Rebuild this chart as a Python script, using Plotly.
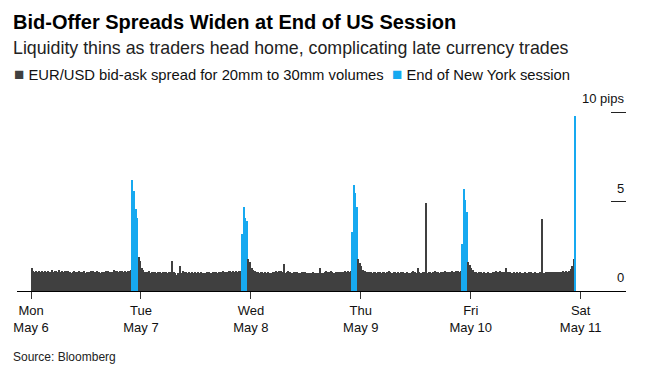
import plotly.graph_objects as go
from datetime import datetime, timedelta

# 20-minute EUR/USD bid-ask spread (pips), 72 slots per day
mon = [
    1.30, 1.12, 1.08, 1.10, 1.06, 1.10, 1.04, 1.12, 1.08, 1.14, 1.06, 1.10,
    1.08, 1.15, 1.04, 1.10, 1.12, 1.06, 1.16, 1.08, 1.12, 1.04, 1.10, 1.14,
    1.10, 1.06, 1.02, 1.05, 1.10, 1.06, 1.08, 1.12, 1.04, 1.08, 1.10, 1.02,
    1.05, 1.08, 1.04, 1.10, 1.12, 1.06, 1.04, 1.10, 1.05, 1.02, 1.05, 1.08,
    1.05, 1.10, 1.12, 1.06, 1.04, 1.08, 1.15, 1.10, 1.12, 1.06, 1.10, 1.12,
    1.08, 1.14, 1.06, 1.12, 1.10, 1.18, 6.20, 5.60, 4.60, 4.10, 1.90, 1.70,
]
tue = [
    1.30, 1.15, 1.06, 1.08, 1.04, 1.10, 1.02, 1.06, 1.08, 1.05, 1.00, 1.06,
    1.08, 1.02, 1.05, 1.08, 1.06, 1.02, 1.05, 1.08, 1.70, 1.05, 1.02, 0.92,
    1.00, 1.40, 1.02, 1.10, 1.08, 1.04, 1.02, 1.05, 1.00, 1.04, 1.02, 1.05,
    1.00, 1.04, 1.02, 1.06, 1.03, 1.00, 1.02, 1.08, 1.04, 1.02, 1.00, 1.05,
    1.08, 1.04, 1.02, 1.06, 1.04, 1.10, 1.06, 1.08, 1.04, 1.10, 1.12, 1.08,
    1.10, 1.06, 1.12, 1.08, 1.10, 1.12, 3.20, 4.70, 4.10, 3.90, 1.80, 1.60,
]
wed = [
    1.30, 1.17, 1.10, 1.06, 1.04, 1.02, 1.06, 1.04, 1.00, 1.04, 1.02, 1.05,
    1.02, 1.00, 1.04, 1.08, 1.10, 1.06, 1.12, 1.14, 1.08, 1.50, 1.02, 1.06,
    1.10, 1.04, 1.00, 0.98, 1.04, 1.08, 1.06, 1.02, 1.00, 1.05, 1.08, 1.04,
    1.02, 1.00, 1.02, 1.00, 1.04, 1.00, 1.02, 0.98, 1.00, 1.30, 1.02, 1.00,
    1.04, 1.10, 1.06, 1.04, 1.10, 1.08, 1.02, 1.06, 1.04, 1.08, 1.06, 1.04,
    1.08, 1.10, 1.06, 1.12, 1.08, 1.10, 3.30, 5.90, 5.50, 4.70, 1.80, 1.55,
]
thu = [
    1.40, 1.20, 1.10, 1.06, 1.04, 1.08, 1.04, 1.02, 1.06, 1.04, 1.00, 1.04,
    1.06, 1.02, 1.05, 1.04, 1.00, 1.06, 1.10, 1.04, 1.02, 1.06, 1.04, 1.00,
    1.04, 1.02, 1.06, 1.04, 1.02, 1.00, 1.04, 1.02, 1.00, 1.04, 1.10, 1.04,
    1.02, 1.30, 1.04, 1.02, 1.06, 1.04, 4.90, 1.02, 1.04, 1.06, 1.02, 1.04,
    1.10, 1.06, 1.04, 1.02, 1.08, 1.06, 1.04, 1.10, 1.06, 1.04, 1.08, 1.10,
    1.06, 1.04, 1.10, 1.12, 1.08, 1.14, 2.60, 5.70, 5.10, 4.40, 1.60, 1.45,
]
fri = [
    1.27, 1.20, 1.08, 1.04, 1.02, 1.06, 1.04, 1.00, 1.04, 1.02, 1.00, 1.04,
    1.02, 1.00, 1.04, 1.06, 1.10, 1.08, 1.04, 1.10, 1.06, 1.08, 1.04, 1.30,
    1.06, 1.04, 1.02, 1.00, 1.04, 1.02, 1.06, 1.00, 1.04, 1.02, 1.00, 1.04,
    1.02, 1.00, 1.04, 1.06, 1.02, 1.00, 1.04, 1.02, 1.00, 1.04, 4.00, 1.02,
    1.00, 1.04, 1.06, 1.04, 1.08, 1.06, 1.04, 1.08, 1.06, 1.04, 1.08, 1.06,
    1.10, 1.08, 1.12, 1.06, 1.10, 1.25, 1.40, 1.80, 9.80,
]
days = [mon, tue, wed, thu, fri]
# slots flagged as end of New York session, per day
ny_slots = [[66, 67, 68, 69], [66, 67, 68, 69], [66, 67, 68, 69], [66, 67, 68, 69], [68]]

tick_dates = ["2019-05-06", "2019-05-07", "2019-05-08", "2019-05-09", "2019-05-10", "2019-05-11"]
tick_text = ["Mon<br>May 6", "Tue<br>May 7", "Wed<br>May 8", "Thu<br>May 9", "Fri<br>May 10", "Sat<br>May 11"]
y_ticks = [0, 5, 10]
y_text = ["0", "5", "10 pips"]

DARK = "#404040"
BLUE = "#17a9f0"

start = datetime(2019, 5, 6)
slot = timedelta(minutes=20)
xs, ys, cols = [], [], []
for d, vals in enumerate(days):
    for i, v in enumerate(vals):
        xs.append(start + timedelta(days=d) + slot * i + slot / 2)
        ys.append(v)
        cols.append(BLUE if i in ny_slots[d] else DARK)

fig = go.Figure(go.Bar(
    x=xs, y=ys, marker=dict(color=cols, line=dict(width=0)),
    width=[slot.total_seconds() * 1000 * 0.82] * len(xs), showlegend=False,
))

FONT = "Liberation Sans"
OFF = 8  # page offset of the plot div
W, H = 656 - OFF, 386 - OFF
L, R, T, B = 9, 30, 80, 95
ph = H - T - B
ymax = ph / 17.9

def py(ypix):
    return (H - B - (ypix - OFF)) / ph

def px(xpix):
    return (xpix - OFF - L) / (W - L - R)

fig.update_layout(
    width=W, height=H,
    margin=dict(l=L, r=R, t=T, b=B, autoexpand=False),
    paper_bgcolor="white", plot_bgcolor="white",
    font=dict(family=FONT, size=13, color="#111"),
    bargap=0,
    xaxis=dict(
        type="date",
        range=[datetime(2019, 5, 5, 20, 56), datetime(2019, 5, 11, 9, 54)],
        tickvals=tick_dates, ticktext=tick_text,
        showline=True, linecolor="#000", linewidth=1,
        ticks="outside", ticklen=7, tickcolor="#333", tickwidth=1,
        showgrid=False, zeroline=False,
        tickfont=dict(size=13, color="#111"),
    ),
    yaxis=dict(
        range=[0, ymax], side="right",
        tickvals=y_ticks, showticklabels=False,
        ticks="inside", ticklen=15, tickcolor="#222", tickwidth=1,
        showgrid=False, zeroline=False, showline=False,
    ),
)

for v, t in zip(y_ticks, y_text):
    fig.add_annotation(xref="paper", yref="y", x=1, y=v, text=t, showarrow=False,
                       xanchor="right", yanchor="bottom", yshift=4,
                       font=dict(size=13, color="#111"))

ann = [
    dict(text="<b>Bid-Offer Spreads Widen at End of US Session</b>", x=px(11), y=py(22),
         font=dict(size=20, color="#000")),
    dict(text="Liquidity thins as traders head home, complicating late currency trades",
         x=px(11), y=py(48), font=dict(size=17.8, color="#222")),
    dict(text=f"<span style='color:{DARK};font-size:17px'>■</span> EUR/USD bid-ask spread for 20mm to 30mm volumes",
         x=px(12), y=py(74), font=dict(size=14.8, color="#111")),
    dict(text=f"<span style='color:{BLUE};font-size:17px'>■</span> End of New York session",
         x=px(390), y=py(74), font=dict(size=14.8, color="#111")),
    dict(text="Source: Bloomberg", x=px(11), y=py(357), font=dict(size=12, color="#222")),
]
for a in ann:
    fig.add_annotation(xref="paper", yref="paper", xanchor="left", yanchor="middle",
                       showarrow=False, **a)

fig.write_html("out.html")
